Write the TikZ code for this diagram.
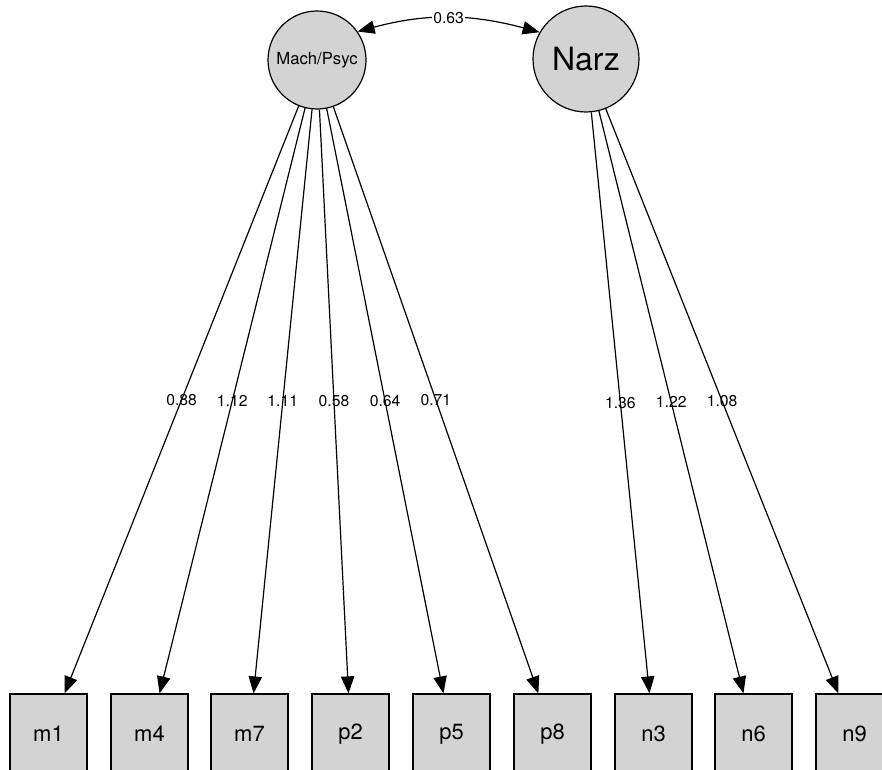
\documentclass[tikz,border=0pt]{standalone}
\usepackage{fontspec}
\setmainfont{TeX Gyre Heros}
\usetikzlibrary{arrows.meta,positioning}

\definecolor{nodegray}{HTML}{D3D3D3}

\tikzset{
	>={Triangle[length=12.75pt,width=10pt]},
	latent/.style={draw, circle, fill=nodegray, line width=0.9pt, inner sep=0pt},
	item/.style={draw, rectangle, fill=nodegray, line width=0.9pt, minimum width=57.75pt, minimum height=60pt, inner sep=0pt, font=\fontsize{16.5}{19}\selectfont},
	coef/.style={font=\fontsize{11.8}{13}\selectfont, inner sep=1pt}
}

\begin{document}
\begin{tikzpicture}[x=0.75pt, y=0.75pt]
				\useasboundingbox (0,0) rectangle (882,769);
				
				\node [latent, minimum size=73.5pt, font=\fontsize{12.5}{15}\selectfont] (mach) at (317,709) {Mach/Psyc};
				\node [latent, minimum size=79.5pt, font=\fontsize{24}{28}\selectfont] (narz) at (586,710) {Narz};
				
				% observed items, bottom row
				\node [item] (m1) at (48.5,35) {m1};
				\node [item] (m4) at (149.5,35) {m4};
				\node [item] (m7) at (249.5,35) {m7};
				\node [item] (p2) at (350.5,35) {p2};
				\node [item] (p5) at (451.5,35) {p5};
				\node [item] (p8) at (552.5,35) {p8};
				\node [item] (n3) at (653.5,35) {n3};
				\node [item] (n6) at (753.5,35) {n6};
				\node [item] (n9) at (854.5,35) {n9};
				
				\draw [->, line width=0.9pt] (mach) -- node [coef] {0.88} (m1);
				\draw [->, line width=0.9pt] (mach) -- node [coef] {1.12} (m4);
				\draw [->, line width=0.9pt] (mach) -- node [coef] {1.11} (m7);
				\draw [->, line width=0.9pt] (mach) -- node [coef] {0.58} (p2);
				\draw [->, line width=0.9pt] (mach) -- node [coef] {0.64} (p5);
				\draw [->, line width=0.9pt] (mach) -- node [coef] {0.71} (p8);
				
				\draw [->, line width=0.9pt] (narz) -- node [coef] {1.36} (n3);
				\draw [->, line width=0.9pt] (narz) -- node [coef] {1.22} (n6);
				\draw [->, line width=0.9pt] (narz) -- node [coef] {1.08} (n9);
				
				\draw [<->, line width=0.9pt] (mach.35) to [out=15, in=165] node [coef, fill=white] {0.63} (narz.150);
				\end{tikzpicture}
\end{document}
